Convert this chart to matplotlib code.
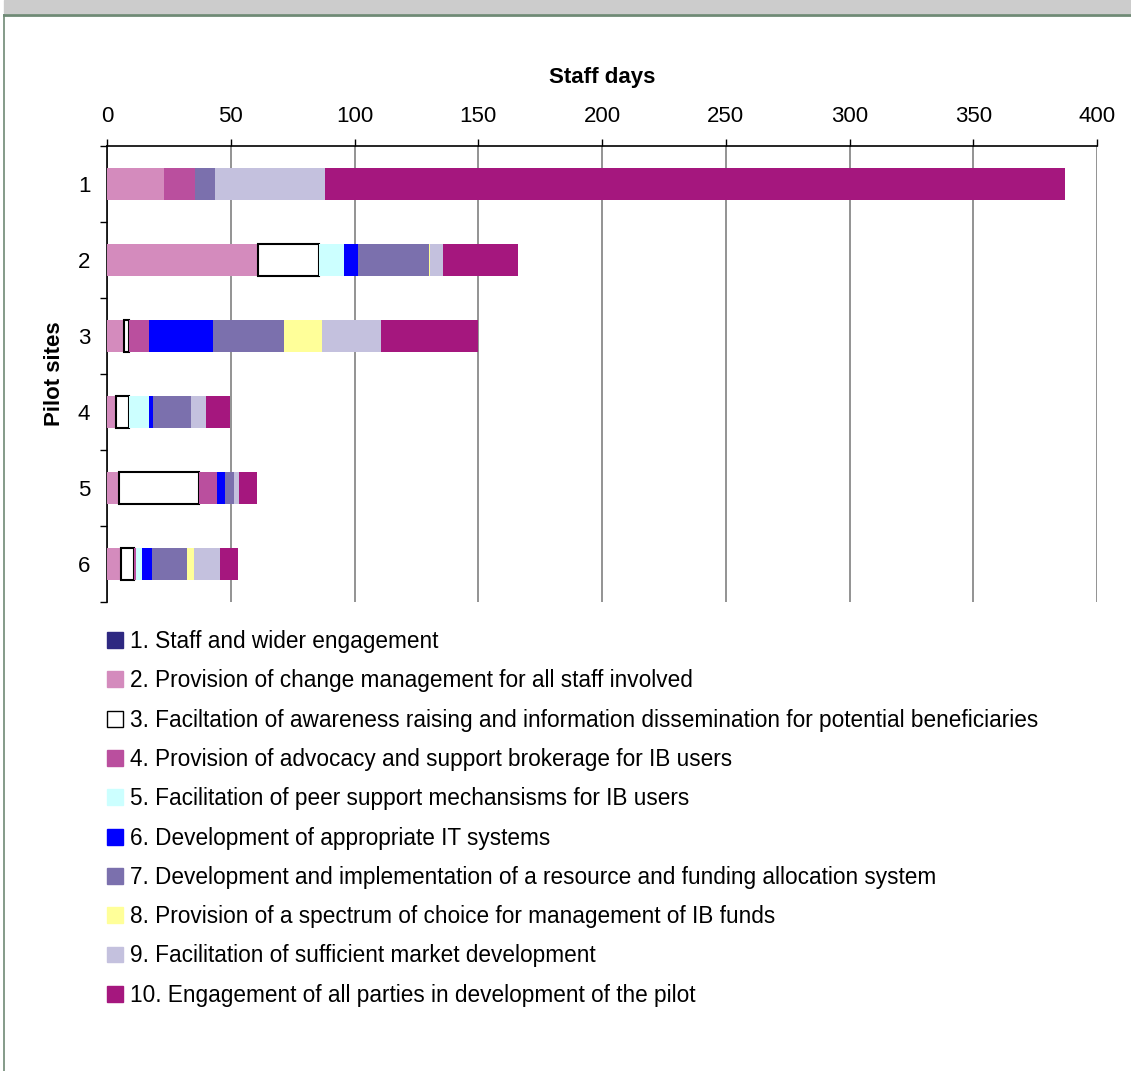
import numpy as np
import matplotlib.pyplot as plt
from matplotlib.patches import Rectangle
from matplotlib.lines import Line2D

plt.rcParams['font.family'] = ['Liberation Sans', 'DejaVu Sans']

# Pilot sites on the vertical axis
sites = ['1', '2', '3', '4', '5', '6']

# Staff days per activity, one value per pilot site
staff_engagement = [0, 0, 0, 0, 0, 0]
change_management = [23, 61, 6.7, 3.6, 5, 5.7]
awareness_raising = [0, 24.8, 2, 5.1, 32.2, 5.1]
advocacy_brokerage = [12.4, 0, 8.4, 0, 7.4, 1]
peer_support = [0, 9.8, 0, 8.4, 0, 2.5]
it_systems = [0, 5.7, 25.9, 1.6, 3.2, 4]
resource_allocation = [8.4, 28.9, 28.7, 15.4, 3.6, 14.2]
choice_of_funds = [0, 0.4, 15, 0, 0, 2.8]
market_development = [44.3, 5.1, 24.2, 6.1, 2.1, 10.5]
parties_engagement = [299, 30.3, 39.1, 9.5, 7.2, 7.3]

labels = [
    '1. Staff and wider engagement',
    '2. Provision of change management for all staff involved',
    '3. Faciltation of awareness raising and information dissemination for potential beneficiaries',
    '4. Provision of advocacy and support brokerage for IB users',
    '5. Facilitation of peer support mechansisms for IB users',
    '6. Development of appropriate IT systems',
    '7. Development and implementation of a resource and funding allocation system',
    '8. Provision of a spectrum of choice for management of IB funds',
    '9. Facilitation of sufficient market development',
    '10. Engagement of all parties in development of the pilot',
]

series = [staff_engagement, change_management, awareness_raising, advocacy_brokerage,
          peer_support, it_systems, resource_allocation, choice_of_funds,
          market_development, parties_engagement]

colors = ['#2E2881', '#D48BBD', '#FFFFFF', '#BA4F9E', '#CCFFFF',
          '#0000FF', '#7B70AD', '#FFFF99', '#C4C1DE', '#A5177E']

W, H = 1131, 1071
FS = 16
fig = plt.figure(figsize=(W / 100, H / 100), dpi=100)

# page frame: grey band on top, thin border line
fig.patches.append(Rectangle((4 / W, 1 - 13 / H), 1 - 4 / W, 13 / H,
                             transform=fig.transFigure, color='#CCCCCC', zorder=0))
fig.lines.append(Line2D([3.5 / W, 1], [1 - 15 / H, 1 - 15 / H], transform=fig.transFigure,
                        color='#6F8A75', lw=2))
fig.lines.append(Line2D([3.5 / W, 3.5 / W], [0, 1 - 15 / H], transform=fig.transFigure,
                        color='#6F8A75', lw=1.2))

ax = fig.add_axes([107 / W, 1 - 602 / H, 990 / W, 456 / H])

y = np.arange(len(sites))
left = np.zeros(len(sites))
handles = []
for vals, col, lab in zip(series, colors, labels):
    vals = np.array(vals, dtype=float)
    if col == '#FFFFFF':
        # outlined bars, no outline where the value is zero
        lw = np.where(vals > 0, 1.5, 0)
        ax.barh(y, vals, left=left, height=0.41, color=col,
                edgecolor='black', linewidth=lw, zorder=3)
    else:
        ax.barh(y, vals, left=left, height=0.41, color=col, linewidth=0, zorder=3)
    handles.append(Rectangle((0, 0), 1, 1, facecolor=col,
                             edgecolor='black' if col == '#FFFFFF' else col, linewidth=1))
    left += vals

ax.set_xlim(0, 400)
ax.set_ylim(len(sites) - 0.5, -0.5)
ax.set_xticks(np.arange(0, 401, 50))
ax.xaxis.tick_top()
ax.xaxis.set_label_position('top')
ax.tick_params(axis='x', length=5, width=1, pad=9, labelsize=FS, color='black')
ax.set_yticks(y)
ax.set_yticklabels(sites)
ax.set_yticks(np.arange(-0.5, len(sites)), minor=True)
ax.tick_params(axis='y', which='major', length=0, pad=12, labelsize=FS)
ax.tick_params(axis='y', which='minor', length=5, width=1)
ax.grid(axis='x', color='#808080', linewidth=1.2, zorder=0)

for side in ['right', 'bottom']:
    ax.spines[side].set_visible(False)
for side in ['top', 'left']:
    ax.spines[side].set_linewidth(1.2)

ax.set_xlabel('Staff days', fontsize=FS, fontweight='bold', labelpad=16)
ax.set_ylabel('Pilot sites', fontsize=FS, fontweight='bold', labelpad=9)

fig.legend(handles, labels, loc='upper left', bbox_to_anchor=(107 / W, 1 - 630 / H),
           frameon=False, fontsize=16.3, borderpad=0, borderaxespad=0,
           handlelength=0.7, handleheight=0.7, handletextpad=0.3, labelspacing=0.72)

fig.savefig('out.png', dpi=100, facecolor='white')
